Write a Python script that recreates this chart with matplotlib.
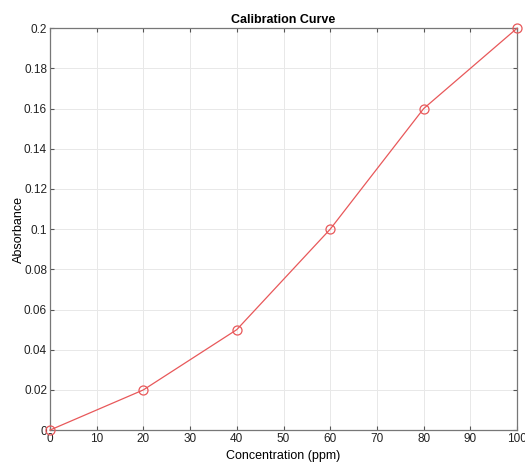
import matplotlib
matplotlib.use("Agg")
import matplotlib.pyplot as plt
from matplotlib.ticker import FormatStrFormatter, MultipleLocator

plt.rcParams['font.family'] = ['Liberation Sans', 'DejaVu Sans']

# calibration data
concentration = [0, 20, 40, 60, 80, 100]
absorbance = [0, 0.02, 0.05, 0.1, 0.16, 0.2]

fig = plt.figure(figsize=(5.25, 4.62), dpi=100)
ax = fig.add_axes([0.095, 0.069, 0.890, 0.870])

ax.plot(concentration, absorbance, color='#e8585a', lw=0.9,
        marker='o', markersize=6.5, markerfacecolor='none',
        markeredgecolor='#e8585a', markeredgewidth=0.9, clip_on=False, zorder=3)

ax.set_xlim(0, 100)
ax.set_ylim(0, 0.2)
ax.xaxis.set_major_locator(MultipleLocator(10))
ax.yaxis.set_major_locator(MultipleLocator(0.02))
ax.yaxis.set_major_formatter(FormatStrFormatter('%g'))
ax.xaxis.set_major_formatter(FormatStrFormatter('%g'))

ax.grid(True, color='#e8e8e8', lw=0.7)
ax.set_axisbelow(True)
ax.tick_params(direction='in', top=True, right=True, length=3,
               labelsize=8.5, color='#555555', labelcolor='#222222', pad=2)
for s in ax.spines.values():
    s.set_color('#777777')
    s.set_linewidth(0.9)

ax.set_title('Calibration Curve', fontsize=9, fontweight='bold', pad=4)
ax.set_xlabel('Concentration (ppm)', fontsize=9, labelpad=4)
ax.set_ylabel('Absorbance', fontsize=9, labelpad=-1)

fig.savefig('out.png', dpi=100)
